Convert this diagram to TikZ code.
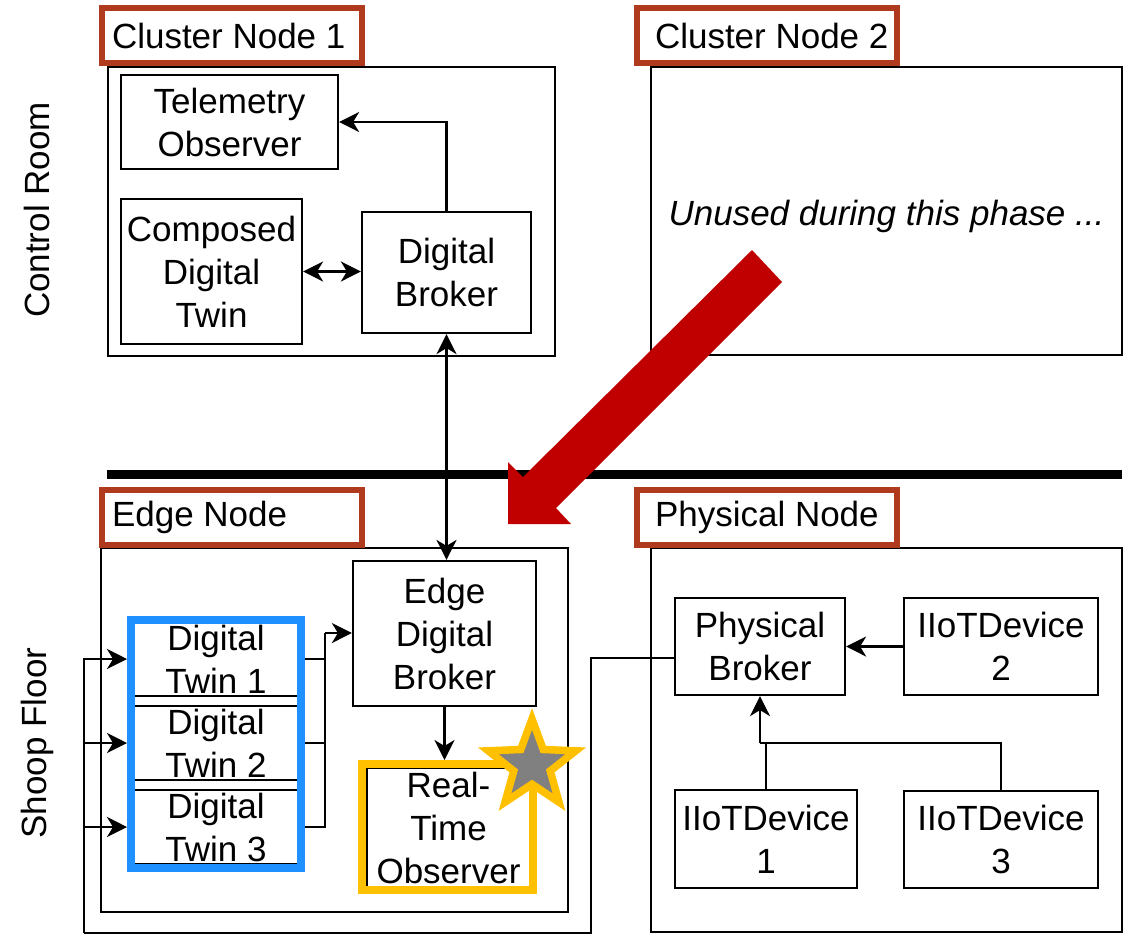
\documentclass[tikz,border=0pt]{standalone}
\usepackage{fontspec}
\setmainfont{Liberation Sans}
\usetikzlibrary{arrows.meta,shapes.geometric}
\definecolor{labred}{RGB}{176,58,30}
\definecolor{twinblue}{RGB}{30,144,255}
\definecolor{gold}{RGB}{255,192,0}
\definecolor{bigred}{RGB}{192,0,0}
\newcommand\dfs{\fontsize{35pt}{43pt}\selectfont}
\newcommand\lbltext[2]{\makebox[240pt][l]{\hspace*{#1}#2}}
\begin{document}
\begin{tikzpicture}[x=1pt,y=-1pt,
  >={Stealth[length=20pt,width=20pt,inset=6pt]},
  box/.style={draw, line width=2.2pt, inner sep=0pt, align=center, font=\dfs},
  cont/.style={draw, line width=2.2pt, inner sep=0pt},
  lbl/.style={draw=labred, line width=6.5pt, minimum width=260pt, minimum height=55pt,
              inner xsep=10pt, inner ysep=0pt, font=\dfs},
  wire/.style={line width=2.2pt}]
\useasboundingbox (0,0) rectangle (1130,935);

% row labels
\node[font=\dfs, rotate=90] (cr) at (37,210) {Control Room};
\node[font=\dfs, rotate=90] (sf) at (37,743) {Shoop Floor};

% containers
\node[cont, minimum width=447pt, minimum height=289pt] (cn1) at (331.5,211.5) {};
\node[cont, minimum width=471pt, minimum height=288pt, font=\dfs\itshape] (cn2) at (886.5,211) {\raisebox{-5pt}[\height][\depth]{Unused during this phase ...}};
\node[cont, minimum width=467pt, minimum height=364pt] (en) at (334.5,730) {};
\node[cont, minimum width=471pt, minimum height=384pt] (pn) at (886.5,740) {};

% red labels
\node[lbl] (l1) at (232,35.5) {\lbltext{0pt}{Cluster Node 1}};
\node[lbl] (l2) at (767,35.5) {\lbltext{8pt}{Cluster Node 2}};
\node[lbl] (l3) at (232,517.5) {\lbltext{0pt}{Edge Node}};
\node[lbl] (l4) at (767,517.5) {\lbltext{8pt}{Physical Node}};

% separator
\draw[line width=9pt] (107,474) -- (1122,474);

% control room boxes
\node[box, minimum width=217pt, minimum height=94pt] (tel) at (229.5,122) {Telemetry\\Observer};
\node[box, minimum width=181pt, minimum height=145pt] (cdt) at (211.5,271.5) {Composed\\Digital\\Twin};
\node[box, minimum width=169pt, minimum height=121pt] (db) at (446.5,272.5) {Digital\\Broker};

% edge node boxes
\node[box, minimum width=183pt, minimum height=145pt] (edb) at (444.5,633.5) {Edge\\Digital\\Broker};
\node[box, minimum width=170pt, minimum height=74pt] (dt1) at (216,659) {Digital\\Twin 1};
\node[box, minimum width=170pt, minimum height=74pt] (dt2) at (216,743) {Digital\\Twin 2};
\node[box, minimum width=170pt, minimum height=74pt] (dt3) at (216,827) {Digital\\Twin 3};
\node[box, minimum width=163pt, minimum height=119pt] (rti) at (448.5,827.5) {Real-\\Time\\Observer};

% physical node boxes
\node[box, minimum width=170pt, minimum height=97pt] (pb) at (760,646.5) {Physical\\Broker};
\node[box, minimum width=182pt, minimum height=98pt] (d1) at (766,839) {IIoTDevice\\1};
\node[box, minimum width=194pt, minimum height=97pt] (d2) at (1001,646.5) {IIoTDevice\\2};
\node[box, minimum width=194pt, minimum height=97pt] (d3) at (1001,839.5) {IIoTDevice\\3};

% highlight frames
\node[draw=twinblue, line width=8pt, minimum width=170pt, minimum height=248pt, inner sep=0pt] (twins) at (216,744) {};
\node[draw=gold, line width=8pt, minimum width=171pt, minimum height=126pt, inner sep=0pt] (rto) at (447.5,827) {};

% connectors control room
\draw[wire,->] (db.north) |- (tel.east);
\draw[wire,<->] (cdt.east) -- (db.west|-cdt.east);
\draw[wire,<->] (db.south) -- (db.south|-edb.north);

% edge node connectors
\coordinate (bus) at (325,633);
\draw[wire] (twins.east|-dt1) -| (bus);
\draw[wire] (twins.east|-dt2) -| (bus);
\draw[wire] (twins.east|-dt3) -| (bus);
\draw[wire,->] (bus) -- (edb.west|-bus);
\draw[wire,->] (edb.south) -- (edb.south|-rto.north);

% physical broker to twins
\coordinate (wa) at (591,658);
\coordinate (wb) at (591,933);
\coordinate (wc) at (84,933);
\draw[wire] (pb.west|-wa) -- (wa) -- (wb) -- (wc);
\draw[wire,->] (wc) |- (twins.west|-dt1);
\draw[wire,->] (wc) |- (twins.west|-dt2);
\draw[wire,->] (wc) |- (twins.west|-dt3);

% physical connectors
\draw[wire,->] (d2.west) -- (pb.east|-d2.west);
\coordinate (j) at (760,743);
\draw[wire] (d1.north) -- (d1.north|-j);
\draw[wire] (d3.north) |- (j);
\draw[wire,->] (j) -- (j|-pb.south);

% star
\node[star, star points=5, star point ratio=2.4, minimum size=92pt, inner sep=0pt,
      fill=gray, draw=gold, line width=7.5pt, line join=miter] (star) at (532,765) {};

% big red arrow
\fill[bigred] (752,250) -- (523,477) -- (508,462) -- (508,524) -- (571,524) -- (556,508) -- (782,282) -- cycle;
\end{tikzpicture}
\end{document}
